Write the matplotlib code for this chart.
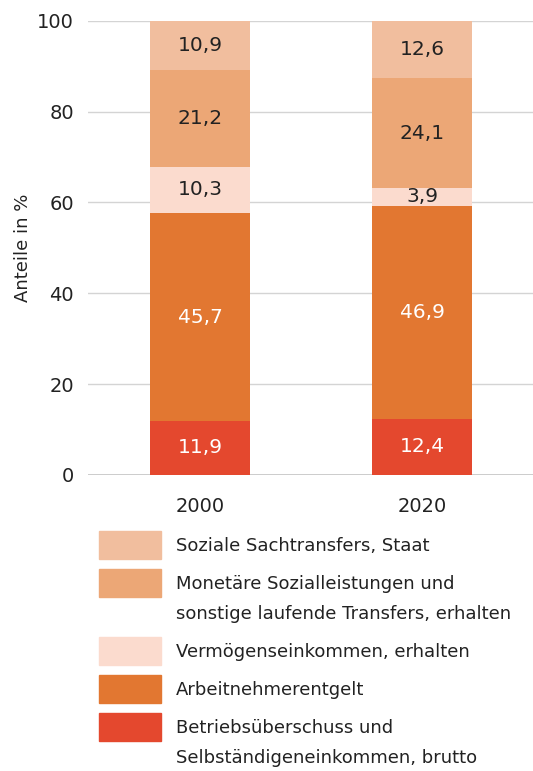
import matplotlib.pyplot as plt
from matplotlib.patches import Rectangle
import numpy as np

plt.rcParams['font.family'] = ['DejaVu Sans']

years = ['2000', '2020']
# stacked from bottom to top
categories = [
    'Betriebsüberschuss und\nSelbständigeneinkommen, brutto',
    'Arbeitnehmerentgelt',
    'Vermögenseinkommen, erhalten',
    'Monetäre Sozialleistungen und\nsonstige laufende Transfers, erhalten',
    'Soziale Sachtransfers, Staat',
]
betrieb = [11.9, 12.4]
arbeit = [45.7, 46.9]
vermoegen = [10.3, 3.9]
monetaer = [21.2, 24.1]
sachtransfers = [10.9, 12.6]
series = [betrieb, arbeit, vermoegen, monetaer, sachtransfers]

colors = ['#E4482E', '#E27731', '#FBDBCE', '#ECA776', '#F1BE9E']
label_colors = ['white', 'white', '#222222', '#222222', '#222222']

fig = plt.figure(figsize=(5.33, 7.71), dpi=100)
ax = fig.add_axes([0.165, 0.384, 0.835, 0.589])

x = np.arange(len(years))
bottom = np.zeros(len(years))
for vals, col, lc in zip(series, colors, label_colors):
    vals = np.array(vals)
    ax.bar(x, vals, bottom=bottom, width=0.45, color=col, zorder=3)
    for xi, v, b in zip(x, vals, bottom):
        ax.text(xi, b + v / 2, f'{v:.1f}'.replace('.', ','), ha='center', va='center',
                color=lc, fontsize=14.5, zorder=4)
    bottom += vals

ax.set_xlim(-0.505, 1.5)
ax.set_ylim(0, 100)
ax.set_yticks([0, 20, 40, 60, 80, 100])
ax.set_xticks(x)
ax.set_xticklabels(years)
ax.tick_params(length=0, labelsize=14, colors='#222222')
ax.tick_params(axis='y', pad=10)
ax.tick_params(axis='x', pad=16)
ax.grid(axis='y', color='#d4d4d4', linewidth=1, zorder=0)
ax.axhline(0, color='#c8c8c8', linewidth=2, zorder=2)
for s in ax.spines.values():
    s.set_visible(False)
ax.set_ylabel('Anteile in %', fontsize=13, color='#222222', labelpad=4)

# legend drawn by hand (top to bottom)
W, H = 533, 771
legend_rows = [
    (531, 4), (569, 3), (637, 2), (675, 1), (713, 0),
]
for top, idx in legend_rows:
    fig.patches.append(Rectangle((99 / W, 1 - (top + 28) / H), 62 / W, 28 / H,
                                 transform=fig.transFigure, color=colors[idx]))
    fig.text(176 / W, 1 - (top + 6) / H, categories[idx], ha='left', va='top',
             fontsize=13, color='#222222', linespacing=1.85)

plt.savefig('out.png', dpi=100)
plt.close()
